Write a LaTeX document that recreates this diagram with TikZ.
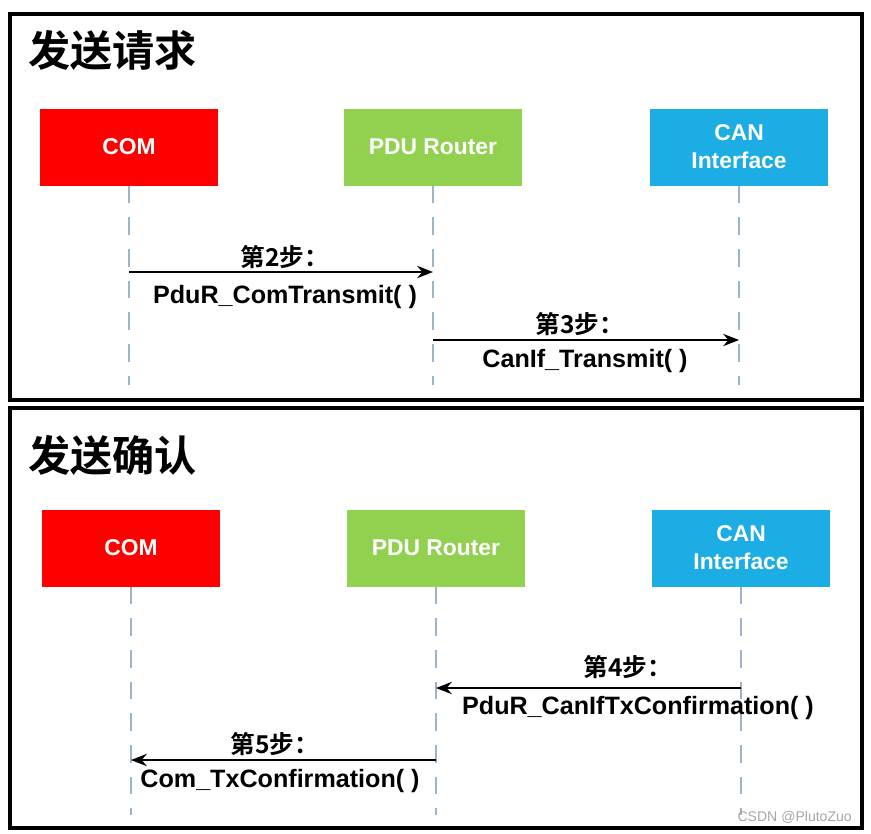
\documentclass[tikz,border=0pt]{standalone}
\usepackage{fontspec}
\setmainfont{Liberation Sans}
\newfontfamily\cjk{Noto Sans CJK SC}[BoldFont={* Bold}]
\usetikzlibrary{arrows.meta,positioning}
\definecolor{comred}{HTML}{FF0000}
\definecolor{pdugreen}{HTML}{92D050}
\definecolor{canblue}{HTML}{1CADE4}
\definecolor{lifeline}{HTML}{9DB3C8}

\begin{document}
\begin{tikzpicture}[x=0.02cm, y=-0.02cm, >={Stealth[length=9pt,width=7pt]},
	block/.style={minimum width=3.56cm, minimum height=1.54cm, align=center,
		text=white, font=\fontsize{13}{16}\selectfont\bfseries},
	panel/.style={draw, line width=2.2pt},
	title/.style={anchor=west, font=\cjk\fontsize{24}{28}\selectfont\bfseries},
	life/.style={draw=lifeline, dashed, dash pattern=on 10pt off 8pt, line width=0.8pt},
	msg/.style={->, line width=1.1pt},
	steplabel/.style={font=\cjk\fontsize{14}{16}\selectfont\bfseries},
	call/.style={font=\fontsize{14.3}{17}\selectfont\bfseries}]
	
	\useasboundingbox (0,0) rectangle (871,833);
	
	% Panels
	\draw[panel] (10,14) rectangle (862,400);
	\draw[panel] (10,408) rectangle (862,828);
	\node[title] (t1) at (22,50) {发送请求};
	\node[title] (t2) at (22,455) {发送确认};
	
	% Request: blocks
	\node[block, fill=comred] (com1) at (129,147) {COM};
	\node[block, fill=pdugreen] (pdu1) at (433,147) {PDU Router};
	\node[block, fill=canblue] (can1) at (739,147) {CAN\\Interface};
	\coordinate (com1e) at (129,385);
	\coordinate (pdu1e) at (433,385);
	\coordinate (can1e) at (739,385);
	\draw[life] (com1) -- (com1e);
	\draw[life] (pdu1) -- (pdu1e);
	\draw[life] (can1) -- (can1e);
	
	% Request: messages
	\coordinate (m2a) at (129,272);
	\coordinate (m2b) at (433,272);
	\coordinate (m3a) at (433,340);
	\coordinate (m3b) at (739,340);
	\draw[msg] (m2a) -- (m2b);
	\draw[msg] (m3a) -- (m3b);
	\node[steplabel] (s2) at (285,257) {第2步：};
	\node[call] (c2) at (285,297) {PduR\_ComTransmit( )};
	\node[steplabel] (s3) at (580,324) {第3步：};
	\node[call] (c3) at (585,361) {CanIf\_Transmit( )};
	
	% Confirmation: blocks
	\node[block, fill=comred] (com2) at (131,548) {COM};
	\node[block, fill=pdugreen] (pdu2) at (436,548) {PDU Router};
	\node[block, fill=canblue] (can2) at (741,548) {CAN\\Interface};
	\coordinate (com2e) at (131,815);
	\coordinate (pdu2e) at (436,815);
	\coordinate (can2e) at (741,815);
	\draw[life] (com2) -- (com2e);
	\draw[life] (pdu2) -- (pdu2e);
	\draw[life] (can2) -- (can2e);
	
	% Confirmation: messages
	\coordinate (m4a) at (741,688);
	\coordinate (m4b) at (436,688);
	\coordinate (m5a) at (436,760);
	\coordinate (m5b) at (131,760);
	\draw[msg] (m4a) -- (m4b);
	\draw[msg] (m5a) -- (m5b);
	\node[steplabel] (s4) at (628,667) {第4步：};
	\node[call] (c4) at (638,708) {PduR\_CanIfTxConfirmation( )};
	\node[steplabel] (s5) at (275,744) {第5步：};
	\node[call] (c5) at (280,781) {Com\_TxConfirmation( )};
	
	\node[text=gray!70, font=\fontsize{8}{9}\selectfont, anchor=east] (wm) at (858,817) {CSDN @PlutoZuo};
\end{tikzpicture}
\end{document}
